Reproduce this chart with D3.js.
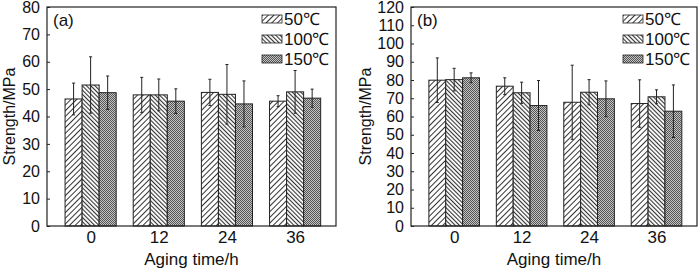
<!DOCTYPE html>
<html>
<head>
<meta charset="utf-8">
<script src="https://cdn.jsdelivr.net/npm/d3@7"></script>
<style>
  body { margin: 0; background: #fff; }
  svg { display: block; font-family: "Liberation Sans", Arial, sans-serif; }
</style>
</head>
<body>
<div id="chart"></div>
<script>
// data
const categories = ["0", "12", "24", "36"];
const seriesNames = ["50\u2103", "100\u2103", "150\u2103"];

// panel (a)
const aMeans = [
  [46.4, 47.9, 48.8, 45.6],   // 50
  [51.5, 47.9, 48.1, 49.0],   // 100
  [48.7, 45.6, 44.6, 46.7]    // 150
];
const aErrors = [
  [5.8, 6.4, 4.8, 2.0],
  [10.3, 5.8, 10.9, 7.8],
  [6.1, 4.5, 8.4, 3.3]
];
const aTicks = d3.range(0, 81, 10);

// panel (b)
const bMeans = [
  [79.9, 76.6, 67.8, 67.1],
  [80.2, 73.0, 73.3, 70.8],
  [81.2, 66.0, 69.7, 62.9]
];
const bErrors = [
  [12.2, 4.6, 20.3, 13.0],
  [6.2, 5.8, 6.9, 3.8],
  [2.7, 13.7, 9.8, 14.4]
];
const bTicks = d3.range(0, 121, 10);

const svg = d3.select("#chart").append("svg")
  .attr("width", 700)
  .attr("height", 269);

// hatch patterns
const defs = svg.append("defs");

const p1 = defs.append("pattern")
  .attr("id", "hatch50")
  .attr("patternUnits", "userSpaceOnUse")
  .attr("width", 4).attr("height", 4)
  .attr("patternTransform", "rotate(45)");
p1.append("rect").attr("width", 4).attr("height", 4).attr("fill", "#fff");
p1.append("line").attr("x1", 0.5).attr("y1", 0).attr("x2", 0.5).attr("y2", 4)
  .attr("stroke", "#333").attr("stroke-width", 1);

const p2 = defs.append("pattern")
  .attr("id", "hatch100")
  .attr("patternUnits", "userSpaceOnUse")
  .attr("width", 3).attr("height", 3)
  .attr("patternTransform", "rotate(-45)");
p2.append("rect").attr("width", 3).attr("height", 3).attr("fill", "#fff");
p2.append("line").attr("x1", 0.5).attr("y1", 0).attr("x2", 0.5).attr("y2", 3)
  .attr("stroke", "#333").attr("stroke-width", 1.2);

const p3 = defs.append("pattern")
  .attr("id", "hatch150")
  .attr("patternUnits", "userSpaceOnUse")
  .attr("width", 2).attr("height", 2);
p3.append("rect").attr("width", 2).attr("height", 2).attr("fill", "#c4c4c4");
p3.append("rect").attr("width", 1).attr("height", 1).attr("fill", "#555");
p3.append("rect").attr("x", 1).attr("y", 1).attr("width", 1).attr("height", 1).attr("fill", "#555");

const fills = ["url(#hatch50)", "url(#hatch100)", "url(#hatch150)"];

function drawPanel(opts) {
  const { left, right, top, bottom, maxY, ticks, means, errors, tag, ylabelX } = opts;

  const x = d3.scaleLinear()
    .domain([-0.64, 3.6])
    .range([left, right]);

  const y = d3.scaleLinear()
    .domain([0, maxY])
    .range([bottom, top]);

  const g = svg.append("g");
  const barW = x(0.25) - x(0);

  // bars
  seriesNames.forEach((name, s) => {
    g.selectAll(null)
      .data(means[s])
      .join("rect")
      .attr("x", (d, i) => x(i + (s - 1) * 0.25) - barW / 2)
      .attr("y", d => y(d))
      .attr("width", barW)
      .attr("height", d => y(0) - y(d))
      .attr("fill", fills[s])
      .attr("stroke", "#222")
      .attr("stroke-width", 1);
  });

  // error bars
  seriesNames.forEach((name, s) => {
    const eb = g.selectAll(null)
      .data(means[s].map((m, i) => ({ m, e: errors[s][i], i })))
      .join("g");
    eb.append("line")
      .attr("x1", d => x(d.i + (s - 1) * 0.25))
      .attr("x2", d => x(d.i + (s - 1) * 0.25))
      .attr("y1", d => y(d.m - d.e))
      .attr("y2", d => y(d.m + d.e))
      .attr("stroke", "#222")
      .attr("stroke-width", 1);
    [-1, 1].forEach(k => {
      eb.append("line")
        .attr("x1", d => x(d.i + (s - 1) * 0.25) - 1.5)
        .attr("x2", d => x(d.i + (s - 1) * 0.25) + 1.5)
        .attr("y1", d => y(d.m + k * d.e))
        .attr("y2", d => y(d.m + k * d.e))
        .attr("stroke", "#222")
        .attr("stroke-width", 1);
    });
  });

  // frame
  g.append("rect")
    .attr("x", left).attr("y", top)
    .attr("width", right - left).attr("height", bottom - top)
    .attr("fill", "none")
    .attr("stroke", "#222")
    .attr("stroke-width", 1.2);

  // y axis, ticks inside
  g.append("g")
    .attr("transform", `translate(${left},0)`)
    .call(d3.axisLeft(y).tickValues(ticks).tickSize(-3).tickPadding(7))
    .call(a => a.select(".domain").remove())
    .call(a => a.selectAll(".tick line").attr("stroke", "#222"))
    .selectAll(".tick text")
    .style("font-size", "16px")
    .style("fill", "#111");

  // x labels
  g.append("g")
    .attr("transform", `translate(0,${bottom})`)
    .call(d3.axisBottom(x).tickValues([0, 1, 2, 3])
      .tickFormat(i => categories[i]).tickSize(0).tickPadding(5))
    .call(a => a.select(".domain").remove())
    .selectAll(".tick text")
    .style("font-size", "17px")
    .style("fill", "#111");

  g.append("text")
    .attr("x", (left + right) / 2)
    .attr("y", 265)
    .attr("text-anchor", "middle")
    .style("font-size", "17px")
    .style("fill", "#111")
    .text("Aging time/h");

  g.append("text")
    .attr("transform", `translate(${ylabelX},${(top + bottom) / 2}) rotate(-90)`)
    .attr("text-anchor", "middle")
    .attr("dy", "0.35em")
    .style("font-size", "16px")
    .style("fill", "#111")
    .text("Strength/MPa");

  g.append("text")
    .attr("x", left + 6)
    .attr("y", top + 19)
    .style("font-size", "17px")
    .style("fill", "#111")
    .text(tag);

  // legend
  const lg = g.append("g")
    .attr("transform", `translate(${right - 74},${top + 8})`);
  seriesNames.forEach((name, s) => {
    const row = lg.append("g").attr("transform", `translate(0,${s * 20})`);
    row.append("rect")
      .attr("width", 20).attr("height", 8)
      .attr("y", 0)
      .attr("fill", fills[s])
      .attr("stroke", "#222")
      .attr("stroke-width", 0.8);
    row.append("text")
      .attr("x", 22)
      .attr("y", 4)
      .attr("dy", "0.35em")
      .style("font-size", "17px")
      .style("fill", "#111")
      .text(name);
  });
}

drawPanel({ left: 47, right: 336, top: 7, bottom: 226, maxY: 80, ticks: aTicks,
  means: aMeans, errors: aErrors, tag: "(a)", ylabelX: 9 });
drawPanel({ left: 411, right: 697, top: 7, bottom: 226, maxY: 120, ticks: bTicks,
  means: bMeans, errors: bErrors, tag: "(b)", ylabelX: 365 });
</script>
</body>
</html>
